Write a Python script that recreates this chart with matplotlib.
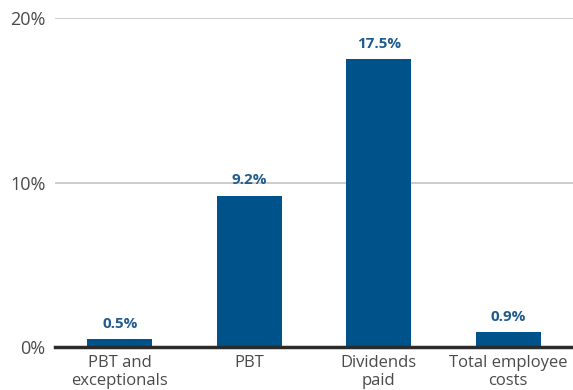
import matplotlib.pyplot as plt
import matplotlib.ticker as mticker

# Údaje
kategorie = ["PBT and\nexceptionals", "PBT", "Dividends\npaid", "Total employee\ncosts"]
hodnoty = [0.5, 9.2, 17.5, 0.9]
popisky = ["0.5%", "9.2%", "17.5%", "0.9%"]

modra = "#00538a"
seda_text = "#4a4a4a"

plt.rcParams["font.family"] = ["Open Sans", "DejaVu Sans"]

fig = plt.figure(figsize=(5.73, 3.90), dpi=100)
ax = fig.add_axes([0.096, 0.110, 0.904, 0.844])

x = range(len(kategorie))
ax.bar(x, hodnoty, width=0.5, color=modra, zorder=3)

# Popisky hodnot nad sloupci
for xi, v, t in zip(x, hodnoty, popisky):
    ax.annotate(t, (xi, v), xytext=(0, 6), textcoords="offset points",
                ha="center", va="bottom", fontsize=11, fontweight="bold",
                color="#1f5c8f")

ax.set_xlim(-0.5, 3.5)
ax.set_ylim(0, 20)
ax.set_yticks([0, 10, 20])
ax.yaxis.set_major_formatter(mticker.FuncFormatter(lambda v, p: f"{v:.0f}%"))
ax.set_xticks(list(x))
ax.set_xticklabels(kategorie, linespacing=1.1, fontsize=12)

ax.grid(axis="y", color="#c4c4c4", linewidth=1.2, zorder=0)
for s in ["top", "right", "left"]:
    ax.spines[s].set_visible(False)
ax.spines["bottom"].set_color("#2b2b2b")
ax.spines["bottom"].set_linewidth(2.5)
ax.spines["bottom"].set_zorder(4)

ax.tick_params(axis="both", length=0, labelcolor=seda_text)
ax.tick_params(axis="y", pad=7, labelsize=13)
ax.tick_params(axis="x", pad=6)

fig.savefig("out.png", dpi=100)
